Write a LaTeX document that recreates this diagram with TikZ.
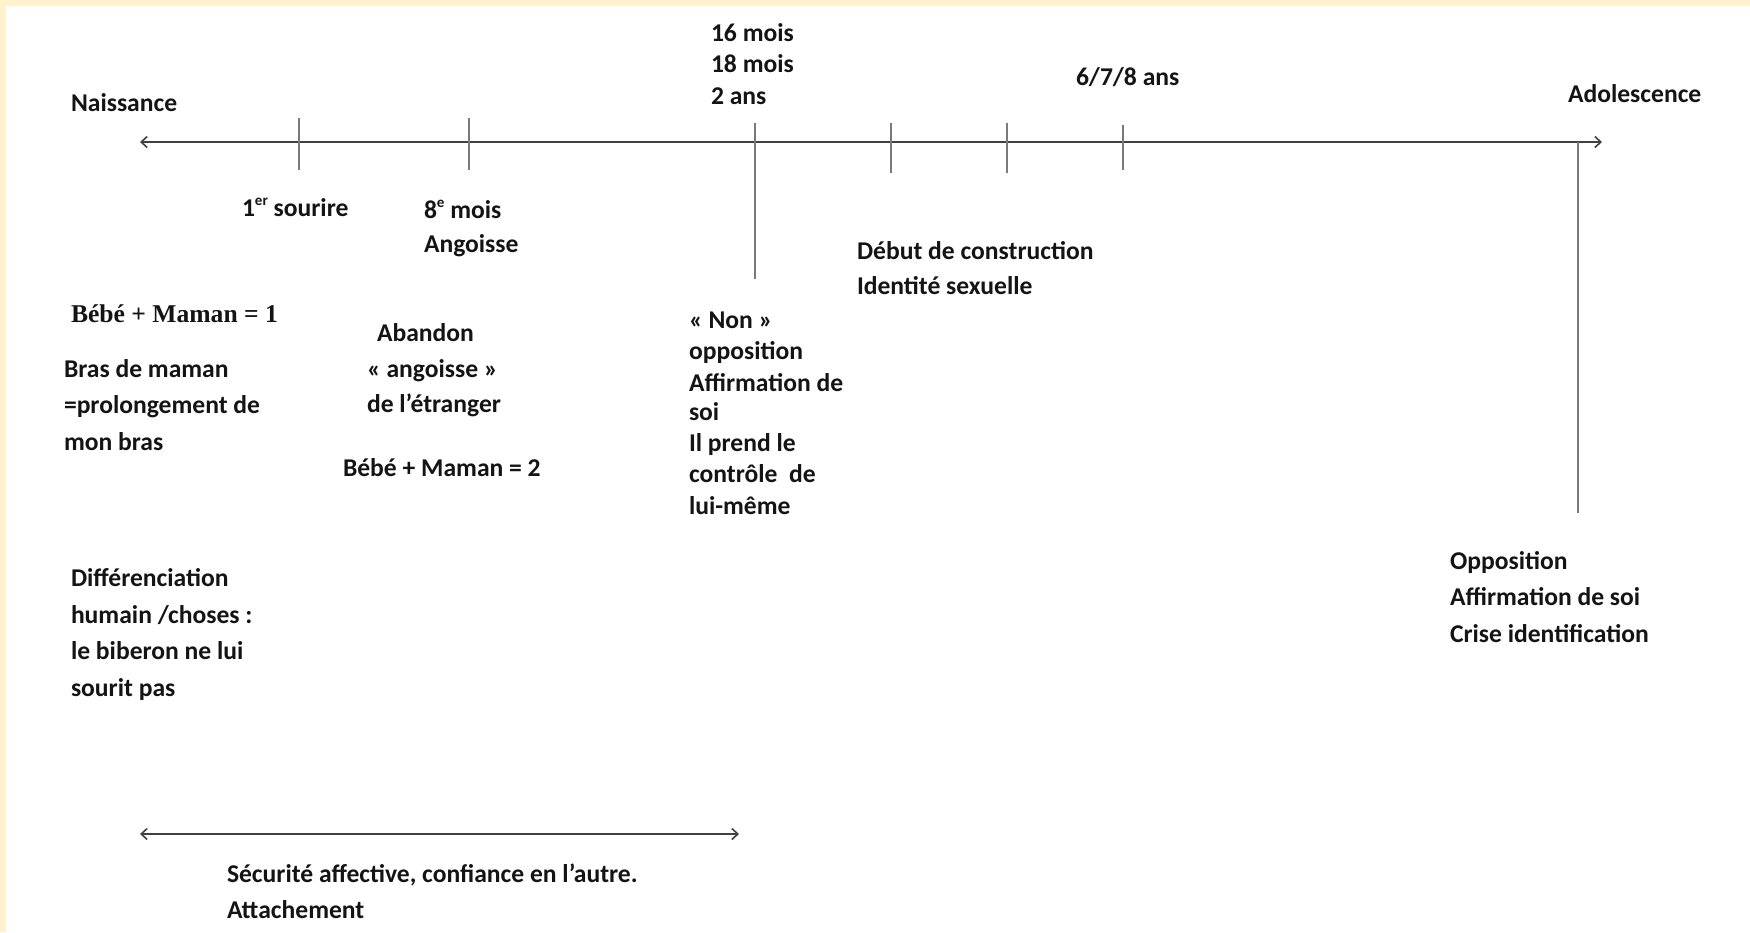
\documentclass[tikz,border=0pt]{standalone}
\usepackage{fontspec}
\setmainfont{Carlito}
\newfontfamily\timesfont{Liberation Serif}
\usetikzlibrary{arrows.meta}
\definecolor{cream}{HTML}{FFF2CC}
\definecolor{axisgray}{HTML}{404040}
\definecolor{tickgray}{HTML}{7A7A7A}
\definecolor{txt}{HTML}{141414}
\newcommand{\supx}[1]{\raisebox{0.42em}{\fontsize{15}{15}\selectfont #1}}
\begin{document}
\begin{tikzpicture}[x=1pt,y=-1pt,
  lbl/.style={anchor=base west,inner sep=0pt,outer sep=0pt,text=txt,font=\fontsize{25.6}{30}\bfseries\selectfont},
  tlbl/.style={anchor=base west,inner sep=0pt,outer sep=0pt,text=txt,font=\fontsize{25.6}{30}\timesfont\bfseries\selectfont},
  axisline/.style={draw=axisgray,line width=2.4pt,{Straight Barb[length=6pt,width=11pt,line width=1.6pt]}-{Straight Barb[length=6pt,width=11pt,line width=1.6pt]}},
  tickline/.style={draw=tickgray,line width=2pt}]
% background and frame strips
\fill[white] (0,0) rectangle (1750,932);
\fill[cream] (0,0) rectangle (1750,6);
\fill[cream] (0,0) rectangle (6,932);
\useasboundingbox (0,0) rectangle (1750,932);

% main axis
\coordinate (axL) at (140,142);
\coordinate (axR) at (1602,142);
\draw[axisline] (axL) -- (axR);

% ticks
\coordinate (t1a) at (299,118); \coordinate (t1b) at (299,170);
\coordinate (t2a) at (469,118); \coordinate (t2b) at (469,170);
\coordinate (t3a) at (754.5,123); \coordinate (t3b) at (754.5,279);
\coordinate (t4a) at (891,123); \coordinate (t4b) at (891,173);
\coordinate (t5a) at (1007,123); \coordinate (t5b) at (1007,173);
\coordinate (t6a) at (1123,125); \coordinate (t6b) at (1123,170);
\coordinate (t7a) at (1578,142); \coordinate (t7b) at (1578,513);
\draw[tickline] (t1a) -- (t1b);
\draw[tickline] (t2a) -- (t2b);
\draw[tickline] (t3a) -- (t3b);
\draw[tickline] (t4a) -- (t4b);
\draw[tickline] (t5a) -- (t5b);
\draw[tickline] (t6a) -- (t6b);
\draw[tickline] (t7a) -- (t7b);

% bottom arrow
\coordinate (bL) at (140,834);
\coordinate (bR) at (739,834);
\draw[axisline] (bL) -- (bR);

% top labels
\node[lbl] (naiss) at (71,111) {Naissance};
\node[lbl] (m16) at (711,41) {16 mois};
\node[lbl] (m18) at (711,72) {18 mois};
\node[lbl] (a2) at (711,104) {2 ans};
\node[lbl] (a678) at (1076,85) {6/7/8 ans};
\node[lbl] (ado) at (1568,102) {Adolescence};

% below axis
\node[lbl] (sour) at (242,216) {1\supx{er} sourire};
\node[lbl] (m8) at (424,218) {8\supx{e} mois};
\node[lbl] (ang) at (424,252) {Angoisse};
\node[lbl] (deb) at (857,259) {Début de construction};
\node[lbl] (ids) at (857,294) {Identité sexuelle};

% left column
\node[tlbl] (bm1) at (71,322) {Bébé + Maman = 1};
\node[lbl] (br1) at (64,377) {Bras de maman};
\node[lbl] (br2) at (64,413) {=prolongement de};
\node[lbl] (br3) at (64,450) {mon bras};
\node[lbl] (dif1) at (71,586) {Différenciation};
\node[lbl] (dif2) at (71,623) {humain /choses :};
\node[lbl] (dif3) at (71,659) {le biberon ne lui};
\node[lbl] (dif4) at (71,696) {sourit pas};

% middle-left column
\node[lbl] (ab1) at (377,341) {Abandon};
\node[lbl] (ab2) at (367,377) {« angoisse »};
\node[lbl] (ab3) at (367,412) {de l’étranger};
\node[lbl] (bm2) at (343,476) {Bébé + Maman = 2};

% Non column
\node[lbl] (non1) at (689,328) {« Non »};
\node[lbl] (non2) at (689,359.5) {opposition};
\node[lbl] (non3) at (689,391) {Affirmation de};
\node[lbl] (non4) at (689,420) {soi};
\node[lbl] (non5) at (689,451) {Il prend le};
\node[lbl] (non6) at (689,482) {contrôle\ \ de};
\node[lbl] (non7) at (689,514) {lui-même};

% adolescence column
\node[lbl] (op1) at (1450,569) {Opposition};
\node[lbl] (op2) at (1450,605) {Affirmation de soi};
\node[lbl] (op3) at (1450,642) {Crise identification};

% bottom
\node[lbl] (sec1) at (227,882) {Sécurité affective, confiance en l’autre.};
\node[lbl] (sec2) at (227,918) {Attachement};
\end{tikzpicture}
\end{document}
